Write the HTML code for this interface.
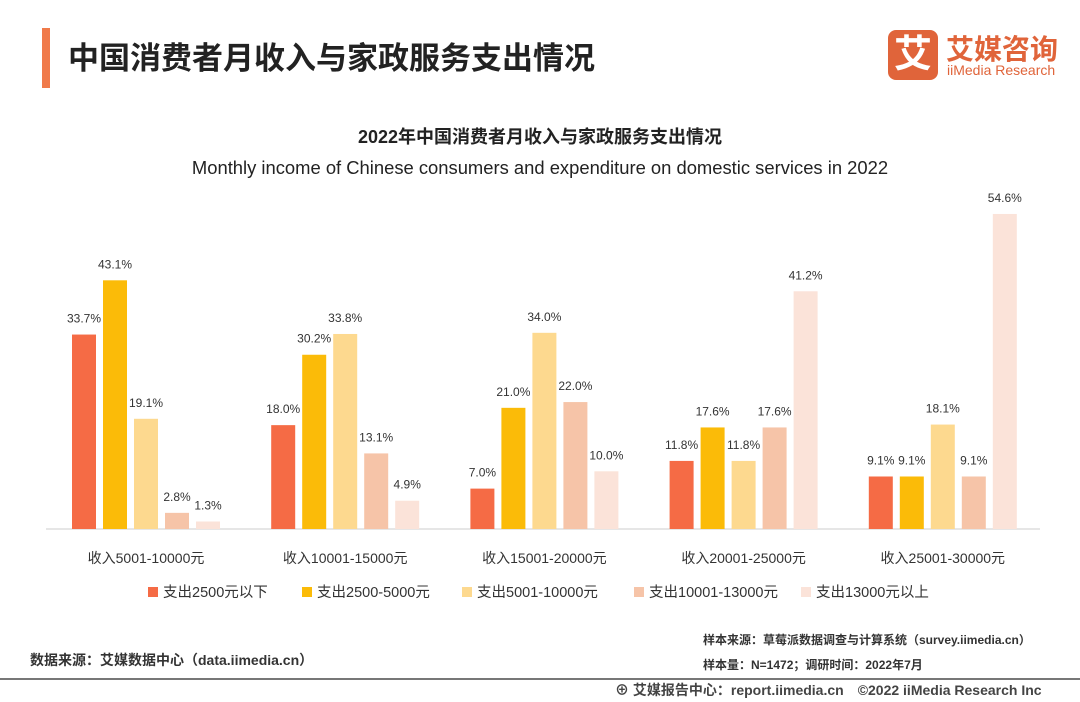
<!DOCTYPE html>
<html><head><meta charset="utf-8"><style>
body{margin:0;width:1080px;height:702px;background:#fff;font-family:"Liberation Sans","Noto Sans CJK SC",sans-serif;position:relative;overflow:hidden}
.a{position:absolute;white-space:nowrap}
</style></head><body>
<div class="a" style="left:42px;top:28px;width:8px;height:60px;background:#f07a4a"></div>
<div class="a" style="left:68px;top:33px;font-size:31px;font-weight:bold;color:#222">中国消费者月收入与家政服务支出情况</div>
<div class="a" style="left:888px;top:30px;width:50px;height:50px;background:#e0643a;border-radius:8px;color:#fff;font-size:38px;font-weight:bold;text-align:center;line-height:50px">艾</div>
<div class="a" style="left:946px;top:28px;font-size:28px;font-weight:bold;color:#e0643a">艾媒咨询</div>
<div class="a" style="left:947px;top:62px;font-size:14px;color:#e0643a">iiMedia Research</div>
<div class="a" style="left:0;width:1080px;text-align:center;top:123px;font-size:18px;font-weight:bold;color:#222">2022年中国消费者月收入与家政服务支出情况</div>
<div class="a" style="left:0;width:1080px;text-align:center;top:157px;font-size:18.4px;color:#222">Monthly income of Chinese consumers and expenditure on domestic services in 2022</div>
<svg class="a" style="left:0;top:0" width="1080" height="702" id="chart"></svg>
<div class="a" style="left:30px;top:650px;font-size:14px;font-weight:bold;color:#333">数据来源：艾媒数据中心（data.iimedia.cn）</div>
<div class="a" style="left:703px;top:631px;font-size:12px;font-weight:bold;color:#333">样本来源：草莓派数据调查与计算系统（survey.iimedia.cn）</div>
<div class="a" style="left:703px;top:656px;font-size:12px;font-weight:bold;color:#333">样本量：N=1472；调研时间：2022年7月</div>
<div class="a" style="left:0;top:678px;width:1080px;height:2px;background:#777"></div>
<div class="a" style="left:615px;top:680px;font-size:14px;font-weight:bold;color:#444">⊕ 艾媒报告中心：report.iimedia.cn　©2022  iiMedia Research  Inc</div>
<script>
const categories=["收入5001-10000元","收入10001-15000元","收入15001-20000元","收入20001-25000元","收入25001-30000元"];
const seriesNames=["支出2500元以下","支出2500-5000元","支出5001-10000元","支出10001-13000元","支出13000元以上"];
const s1=[33.7,18.0,7.0,11.8,9.1];
const s2=[43.1,30.2,21.0,17.6,9.1];
const s3=[19.1,33.8,34.0,11.8,18.1];
const s4=[2.8,13.1,22.0,17.6,9.1];
const s5=[1.3,4.9,10.0,41.2,54.6];
const series=[s1,s2,s3,s4,s5];
const colors=["#f56b45","#fbbb08","#fdd98f","#f6c4a8","#fbe3d9"];
const svg=document.getElementById('chart');const NS="http://www.w3.org/2000/svg";
const base=529,k=5.77;
const y=v=>base-v*k;
const gx=i=>146+i*199.2;
const bx=(i,j)=>gx(i)-74+j*31;
function mk(t,a){const e=document.createElementNS(NS,t);for(const q in a)e.setAttribute(q,a[q]);svg.appendChild(e);return e;}
const ax=mk('line',{x1:46,x2:1040,y1:base,y2:base,stroke:'#ccc','stroke-width':1});


series.forEach((s,j)=>s.forEach((v,i)=>{
 const r=mk('rect',{x:bx(i,j),y:y(v),width:24,height:v*k,fill:colors[j]});
 
 
 const t=mk('text',{x:bx(i,j)+12,y:y(v)-12,'text-anchor':'middle','font-size':12,fill:'#333'});
 t.textContent=v.toFixed(1)+'%';
 
 
}));
categories.forEach((c,i)=>{
 const t=mk('text',{x:gx(i),y:563,'text-anchor':'middle','font-size':14,fill:'#333'});
 t.textContent=c;
 
 
});
const lx=[148,302,462,634,801];
seriesNames.forEach((n,j)=>{
 const r=mk('rect',{x:lx[j],y:587,width:10,height:10,fill:colors[j]});
 
 
 const t=mk('text',{x:lx[j]+15,y:597,'font-size':14.5,fill:'#333'});
 t.textContent=n;
 
 
});
</script>
</body></html>
